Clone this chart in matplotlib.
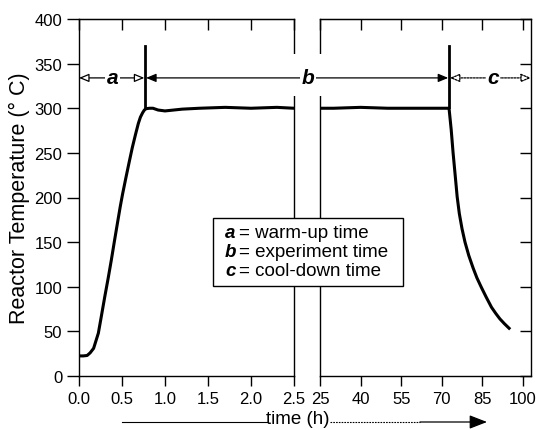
import matplotlib
matplotlib.use("Agg")
import matplotlib.pyplot as plt
from matplotlib.patches import Rectangle, FancyArrowPatch, ConnectionPatch

plt.rcParams["font.family"] = ["Liberation Sans", "DejaVu Sans"]

# warm-up phase (h, deg C)
warm_t = [0, 0.05, 0.095, 0.13, 0.17, 0.225, 0.26, 0.30, 0.34, 0.376, 0.41, 0.45,
          0.48, 0.507, 0.545, 0.582, 0.62, 0.658, 0.69, 0.714, 0.74, 0.76, 0.78,
          0.82, 0.86, 0.92, 1.0, 1.1, 1.2, 1.4, 1.7, 2.0, 2.3, 2.5]
warm_T = [22.5, 22.5, 23, 26, 31, 48, 67, 89, 110, 130, 150, 173,
          190, 204, 222, 239, 256, 271, 283, 290, 295, 298, 299.5,
          300, 300, 298, 297, 298, 299, 300, 301, 300, 301, 300]

# experiment + cool-down phase
exp_t = [25, 30, 40, 50, 60, 70, 72.7, 73.5, 74.2, 75.0, 75.7, 76.5, 77.5, 78.6,
         80.0, 81.6, 83.0, 84.7, 86.5, 88.4, 90.0, 91.5, 93.2, 94.9]
exp_T = [300, 300, 301, 300, 300, 300, 300, 276, 250, 224, 201, 182, 165, 150,
         135, 121, 110, 99, 88, 77, 70, 64, 58.5, 53.5]

left_ticks = [0.0, 0.5, 1.0, 1.5, 2.0, 2.5]
right_ticks = [25, 40, 55, 70, 85, 100]
y_ticks = [0, 50, 100, 150, 200, 250, 300, 350, 400]

a_end = 0.77     # end of warm-up
b_end = 72.7     # end of experiment
arrow_y = 334
legend_lines = [("a", "= warm-up time"), ("b", "= experiment time"), ("c", "= cool-down time")]

W, H = 537, 431
fig = plt.figure(figsize=(W / 100, H / 100), dpi=100)


def px(x0, y0, x1, y1):
    return [x0 / W, 1 - y1 / H, (x1 - x0) / W, (y1 - y0) / H]


ax1 = fig.add_axes(px(79, 20, 294, 377))
ax2 = fig.add_axes(px(320, 20, 531, 377))

ax1.plot(warm_t, warm_T, color="black", lw=2.2)
ax2.plot(exp_t, exp_T, color="black", lw=2.2)

ax1.set_xlim(0, 2.5)
ax2.set_xlim(25, 103)
for ax in (ax1, ax2):
    ax.set_ylim(0, 400)
    ax.set_yticks(y_ticks)
    for s in ax.spines.values():
        s.set_linewidth(1.0)

ax1.set_xticks(left_ticks)
ax1.set_xticklabels([f"{v:.1f}" for v in left_ticks])
ax1.tick_params(axis="x", direction="out", length=7, width=1, labelsize=12, pad=4)
ax1.tick_params(axis="y", direction="out", length=9, width=1, labelsize=12, pad=3)
top1 = ax1.secondary_xaxis("top")
top1.set_xticks(left_ticks, labels=[])
top1.tick_params(direction="in", length=8, width=1)

ax2.set_xticks(right_ticks)
ax2.tick_params(axis="x", direction="out", length=7, width=1, labelsize=12, pad=4)
ax2.tick_params(axis="y", left=False, labelleft=False, right=True, direction="in",
                length=8, width=1)
top2 = ax2.secondary_xaxis("top")
top2.set_xticks(right_ticks, labels=[])
top2.tick_params(direction="in", length=8, width=1)

ax1.set_ylabel("Reactor Temperature (° C)", fontsize=15.5, labelpad=3)

# phase boundary markers
ax1.plot([a_end, a_end], [301, 370], color="black", lw=2, clip_on=False)
ax2.plot([b_end, b_end], [301, 370], color="black", lw=2, clip_on=False)

# white gap in the broken spines around the "b" label
fig.add_artist(Rectangle((289 / W, 1 - 97 / H), 36 / W, 42 / H, transform=fig.transFigure,
                         fc="white", ec="none", zorder=4))

head = "<|-|>,head_length=0.6,head_width=0.25"
ax1.annotate("", xy=(0.0, arrow_y), xytext=(a_end - 0.01, arrow_y),
             arrowprops=dict(arrowstyle=head, fc="white", ec="black", lw=0.9,
                             shrinkA=0, shrinkB=0), annotation_clip=False)
b_arrow = ConnectionPatch(xyA=(a_end + 0.01, arrow_y), coordsA=ax1.transData,
                          xyB=(b_end - 0.3, arrow_y), coordsB=ax2.transData,
                          arrowstyle=head, fc="black", ec="black", lw=0.9,
                          shrinkA=0, shrinkB=0, mutation_scale=10, zorder=6)
fig.add_artist(b_arrow)
ax2.annotate("", xy=(103, arrow_y), xytext=(b_end + 0.3, arrow_y),
             arrowprops=dict(arrowstyle=head, fc="white", ec="black", lw=0.9,
                             linestyle=(0, (1.5, 1)), shrinkA=0, shrinkB=0),
             annotation_clip=False)

lab = dict(fontsize=15, fontweight="bold", fontstyle="italic", ha="center", va="center",
           zorder=10)
ax1.text(0.39, arrow_y, "a", bbox=dict(fc="white", ec="none", pad=1), **lab)
fig.text(308 / W, 1 - 79 / H, "b", bbox=dict(fc="white", ec="none", pad=1), **lab)
ax2.text(89, arrow_y, "c", bbox=dict(fc="white", ec="none", pad=1), **lab)

# legend-like box
fig.add_artist(Rectangle((213 / W, 1 - 287 / H), 190 / W, 68 / H, transform=fig.transFigure,
                         fc="white", ec="black", lw=1.0, zorder=5))
for i, (k, txt) in enumerate(legend_lines):
    yy = 1 - (234 + 18.5 * i) / H
    fig.text(225 / W, yy, k, fontsize=13.5, fontweight="bold", fontstyle="italic",
             va="center", zorder=6)
    fig.text(239 / W, yy, txt, fontsize=13.5, va="center", zorder=6)

# x label with arrow
fig.text(298 / W, 1 - 420 / H, "time (h)", fontsize=13.5, ha="center", va="center")
fig.add_artist(plt.Line2D([122 / W, 267 / W], [1 - 423 / H] * 2, color="black", lw=0.8))
fig.add_artist(plt.Line2D([330 / W, 420 / W], [1 - 423 / H] * 2, color="black", lw=0.8,
                          linestyle=(0, (1.5, 1))))
fig.add_artist(FancyArrowPatch(
    (420 / W, 1 - 423 / H), (487 / W, 1 - 423 / H), transform=fig.transFigure,
    arrowstyle="-|>,head_length=0.9,head_width=0.35", color="black", lw=0.9,
    shrinkA=0, shrinkB=0, mutation_scale=12))

fig.savefig("out.png", dpi=100)
